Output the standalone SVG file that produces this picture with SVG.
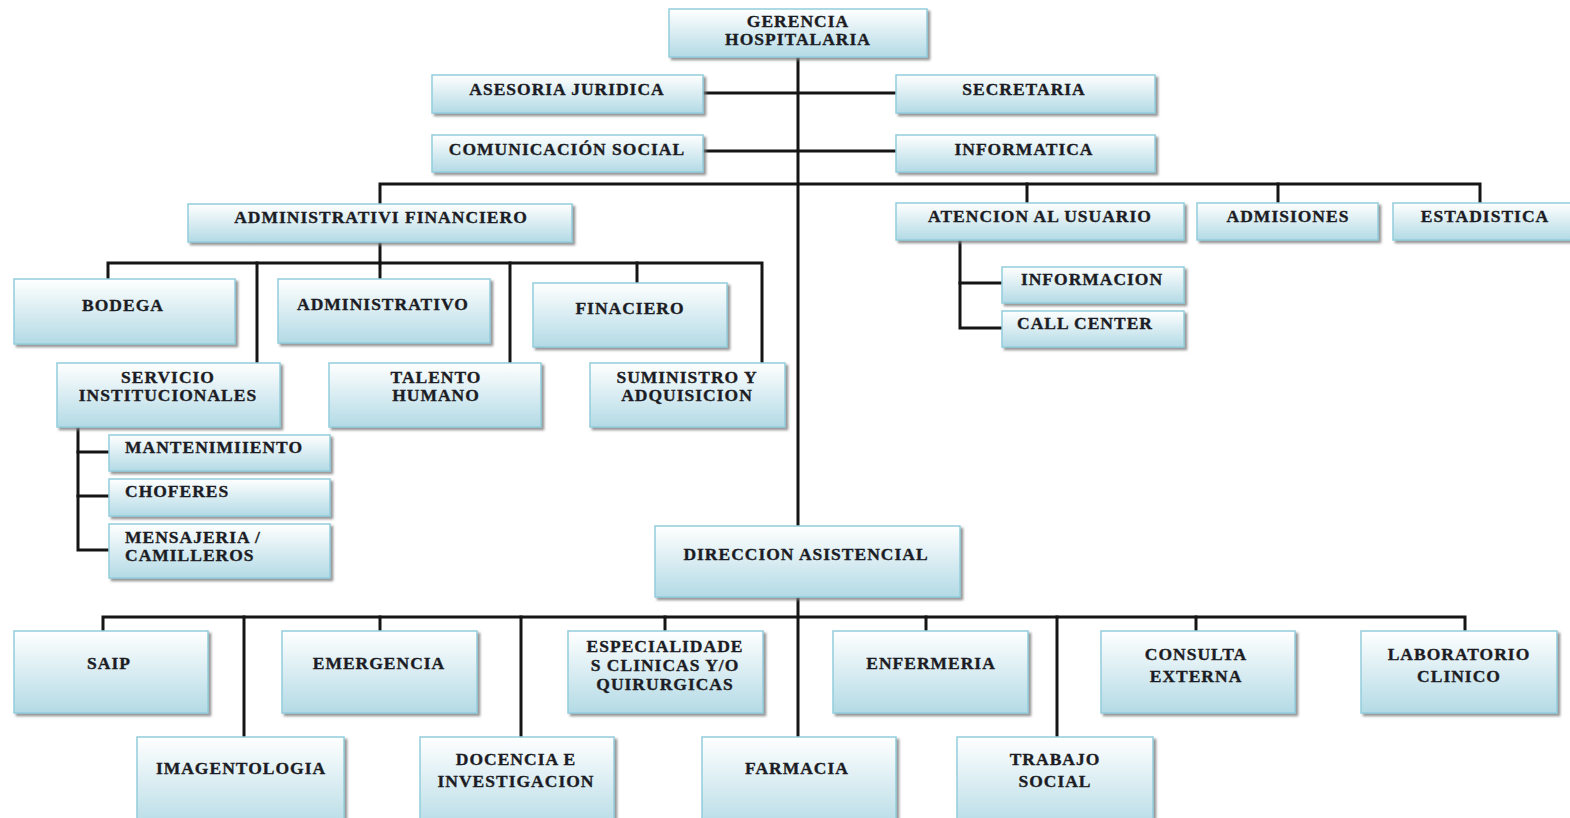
<svg xmlns="http://www.w3.org/2000/svg" width="1570" height="818" viewBox="0 0 1570 818">
  <defs>
    <linearGradient id="boxFill" x1="0" y1="0" x2="0" y2="1">
      <stop offset="0" stop-color="#ffffff"/>
      <stop offset="1" stop-color="#b3dae5"/>
    </linearGradient>
    <filter id="shadow" x="-5%" y="-10%" width="115%" height="130%">
      <feDropShadow dx="2.5" dy="2.5" stdDeviation="1.2" flood-color="#7a7a7a" flood-opacity="0.8"/>
    </filter>
  </defs>
  <style>
    .node rect { fill: url(#boxFill); stroke: #93cddd; stroke-width: 1.5; filter: url(#shadow); }
    .node text { font-family: "Liberation Serif", "Times New Roman", serif; font-weight: bold; font-size: 17.5px; fill: #1c1c24; stroke: #1c1c24; stroke-width: 0.35; letter-spacing: 1px; text-anchor: middle; }
    .node text.left { text-anchor: start; }
    #connectors path { fill: none; stroke: #151515; stroke-width: 3; stroke-linejoin: miter; stroke-linecap: square; }
  </style>
  <rect width="1570" height="818" fill="#ffffff"/>

  <!-- connectors -->
  <g id="connectors">
    <!-- main spine -->
    <path d="M798 57 V526"/>
    <path d="M798 598 V737"/>
    <!-- staff units -->
    <path d="M703 93 H896"/>
    <path d="M703 151 H896"/>
    <!-- upper bus -->
    <path d="M380 204 V184 H1480 V203"/>
    <path d="M1027 184 V203"/>
    <path d="M1278 184 V203"/>
    <!-- administrative branch -->
    <path d="M380 242 V263"/>
    <path d="M108 279 V263 H762 V363"/>
    <path d="M257 263 V363"/>
    <path d="M380 263 V279"/>
    <path d="M510 263 V363"/>
    <path d="M637 263 V283"/>
    <!-- institutional services -->
    <path d="M78 427 V550 H109"/>
    <path d="M78 452 H109"/>
    <path d="M78 496 H109"/>
    <!-- user attention -->
    <path d="M960 240 V328 H1002"/>
    <path d="M960 283 H1002"/>
    <!-- care direction bus -->
    <path d="M103 631 V617 H1465 V631"/>
    <path d="M244 617 V737"/>
    <path d="M380 617 V631"/>
    <path d="M521 617 V737"/>
    <path d="M665 617 V631"/>
    <path d="M926 617 V631"/>
    <path d="M1057 617 V737"/>
    <path d="M1196 617 V631"/>
  </g>

  <!-- top level -->
  <g id="gerencia" class="node">
    <rect x="669" y="9" width="258" height="48"/>
    <text x="798" y="27">GERENCIA</text>
    <text x="798" y="45">HOSPITALARIA</text>
  </g>
  <g id="asesoria" class="node">
    <rect x="432" y="75" width="271" height="38"/>
    <text x="567" y="95">ASESORIA JURIDICA</text>
  </g>
  <g id="secretaria" class="node">
    <rect x="896" y="75" width="259" height="38"/>
    <text x="1024" y="95">SECRETARIA</text>
  </g>
  <g id="comunicacion" class="node">
    <rect x="432" y="135" width="271" height="37"/>
    <text x="567" y="155">COMUNICACIÓN SOCIAL</text>
  </g>
  <g id="informatica" class="node">
    <rect x="896" y="135" width="259" height="37"/>
    <text x="1024" y="155">INFORMATICA</text>
  </g>

  <!-- second level -->
  <g id="adm-financiero" class="node">
    <rect x="188" y="204" width="384" height="38"/>
    <text x="381" y="223">ADMINISTRATIVI FINANCIERO</text>
  </g>
  <g id="atencion" class="node">
    <rect x="896" y="203" width="288" height="37"/>
    <text x="1040" y="222">ATENCION AL USUARIO</text>
  </g>
  <g id="admisiones" class="node">
    <rect x="1197" y="203" width="181" height="37"/>
    <text x="1288" y="222">ADMISIONES</text>
  </g>
  <g id="estadistica" class="node">
    <rect x="1393" y="203" width="184" height="37"/>
    <text x="1485" y="222">ESTADISTICA</text>
  </g>

  <!-- administrative units -->
  <g id="bodega" class="node">
    <rect x="14" y="279" width="221" height="65"/>
    <text x="123" y="311">BODEGA</text>
  </g>
  <g id="administrativo" class="node">
    <rect x="278" y="279" width="212" height="64"/>
    <text x="383" y="310">ADMINISTRATIVO</text>
  </g>
  <g id="financiero" class="node">
    <rect x="533" y="283" width="194" height="64"/>
    <text x="630" y="314">FINACIERO</text>
  </g>
  <g id="servicio" class="node">
    <rect x="57" y="363" width="223" height="64"/>
    <text x="168" y="383">SERVICIO</text>
    <text x="168" y="401">INSTITUCIONALES</text>
  </g>
  <g id="talento" class="node">
    <rect x="329" y="363" width="212" height="64"/>
    <text x="436" y="383">TALENTO</text>
    <text x="436" y="401">HUMANO</text>
  </g>
  <g id="suministro" class="node">
    <rect x="590" y="363" width="195" height="64"/>
    <text x="687" y="383">SUMINISTRO Y</text>
    <text x="687" y="401">ADQUISICION</text>
  </g>
  <g id="mantenimiento" class="node">
    <rect x="109" y="435" width="221" height="36"/>
    <text class="left" x="125" y="453">MANTENIMIIENTO</text>
  </g>
  <g id="choferes" class="node">
    <rect x="109" y="479" width="221" height="37"/>
    <text class="left" x="125" y="497">CHOFERES</text>
  </g>
  <g id="mensajeria" class="node">
    <rect x="109" y="524" width="221" height="54"/>
    <text class="left" x="125" y="543">MENSAJERIA /</text>
    <text class="left" x="125" y="561">CAMILLEROS</text>
  </g>

  <!-- user attention units -->
  <g id="informacion" class="node">
    <rect x="1002" y="267" width="182" height="36"/>
    <text x="1092" y="285">INFORMACION</text>
  </g>
  <g id="call-center" class="node">
    <rect x="1002" y="311" width="182" height="36"/>
    <text class="left" x="1017" y="329">CALL CENTER</text>
  </g>

  <!-- care direction -->
  <g id="direccion" class="node">
    <rect x="655" y="526" width="305" height="71"/>
    <text x="806" y="560">DIRECCION ASISTENCIAL</text>
  </g>

  <!-- care units, first row -->
  <g id="saip" class="node">
    <rect x="14" y="631" width="194" height="82"/>
    <text x="109" y="669">SAIP</text>
  </g>
  <g id="emergencia" class="node">
    <rect x="282" y="631" width="195" height="82"/>
    <text x="379" y="669">EMERGENCIA</text>
  </g>
  <g id="especialidades" class="node">
    <rect x="568" y="631" width="195" height="82"/>
    <text x="665" y="652">ESPECIALIDADE</text>
    <text x="665" y="671">S CLINICAS Y/O</text>
    <text x="665" y="690">QUIRURGICAS</text>
  </g>
  <g id="enfermeria" class="node">
    <rect x="833" y="631" width="195" height="82"/>
    <text x="931" y="669">ENFERMERIA</text>
  </g>
  <g id="consulta" class="node">
    <rect x="1101" y="631" width="194" height="82"/>
    <text x="1196" y="660">CONSULTA</text>
    <text x="1196" y="682">EXTERNA</text>
  </g>
  <g id="laboratorio" class="node">
    <rect x="1361" y="631" width="196" height="82"/>
    <text x="1459" y="660">LABORATORIO</text>
    <text x="1459" y="682">CLINICO</text>
  </g>

  <!-- care units, second row -->
  <g id="imagentologia" class="node">
    <rect x="137" y="737" width="207" height="95"/>
    <text x="241" y="774">IMAGENTOLOGIA</text>
  </g>
  <g id="docencia" class="node">
    <rect x="420" y="737" width="194" height="95"/>
    <text x="516" y="765">DOCENCIA E</text>
    <text x="516" y="787">INVESTIGACION</text>
  </g>
  <g id="farmacia" class="node">
    <rect x="702" y="737" width="194" height="95"/>
    <text x="797" y="774">FARMACIA</text>
  </g>
  <g id="trabajo-social" class="node">
    <rect x="957" y="737" width="196" height="95"/>
    <text x="1055" y="765">TRABAJO</text>
    <text x="1055" y="787">SOCIAL</text>
  </g>
</svg>
